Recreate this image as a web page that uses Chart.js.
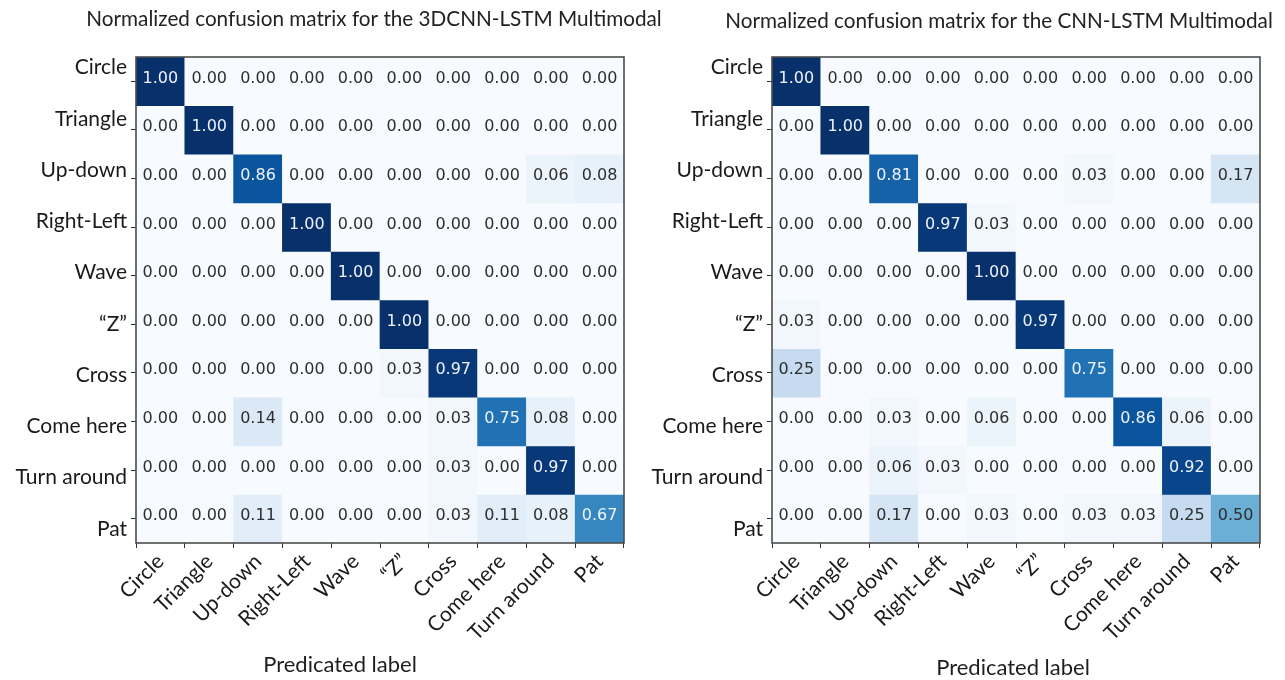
<!DOCTYPE html>
<html lang="en">
<head>
<meta charset="UTF-8">
<title>Normalized confusion matrices</title>
<script src="https://cdn.jsdelivr.net/npm/chart.js"></script>
<style>
  body { margin: 0; background: #fff; }
  .painel { position: absolute; top: 0; }
</style>
</head>
<body>
<canvas id="matriz3dcnn" class="painel" width="680" height="680" style="left:0"></canvas>
<canvas id="matrizCnn" class="painel" width="643" height="680" style="left:642px"></canvas>

<script>
// classes (true label rows / predicted label columns)
const classes = ['Circle', 'Triangle', 'Up-down', 'Right-Left', 'Wave', '\u201CZ\u201D', 'Cross', 'Come here', 'Turn around', 'Pat'];

// 3DCNN-LSTM, one row per true label
const valores3dcnn = [
  [1.00, 0.00, 0.00, 0.00, 0.00, 0.00, 0.00, 0.00, 0.00, 0.00],
  [0.00, 1.00, 0.00, 0.00, 0.00, 0.00, 0.00, 0.00, 0.00, 0.00],
  [0.00, 0.00, 0.86, 0.00, 0.00, 0.00, 0.00, 0.00, 0.06, 0.08],
  [0.00, 0.00, 0.00, 1.00, 0.00, 0.00, 0.00, 0.00, 0.00, 0.00],
  [0.00, 0.00, 0.00, 0.00, 1.00, 0.00, 0.00, 0.00, 0.00, 0.00],
  [0.00, 0.00, 0.00, 0.00, 0.00, 1.00, 0.00, 0.00, 0.00, 0.00],
  [0.00, 0.00, 0.00, 0.00, 0.00, 0.03, 0.97, 0.00, 0.00, 0.00],
  [0.00, 0.00, 0.14, 0.00, 0.00, 0.00, 0.03, 0.75, 0.08, 0.00],
  [0.00, 0.00, 0.00, 0.00, 0.00, 0.00, 0.03, 0.00, 0.97, 0.00],
  [0.00, 0.00, 0.11, 0.00, 0.00, 0.00, 0.03, 0.11, 0.08, 0.67]
];

// CNN-LSTM
const valoresCnn = [
  [1.00, 0.00, 0.00, 0.00, 0.00, 0.00, 0.00, 0.00, 0.00, 0.00],
  [0.00, 1.00, 0.00, 0.00, 0.00, 0.00, 0.00, 0.00, 0.00, 0.00],
  [0.00, 0.00, 0.81, 0.00, 0.00, 0.00, 0.03, 0.00, 0.00, 0.17],
  [0.00, 0.00, 0.00, 0.97, 0.03, 0.00, 0.00, 0.00, 0.00, 0.00],
  [0.00, 0.00, 0.00, 0.00, 1.00, 0.00, 0.00, 0.00, 0.00, 0.00],
  [0.03, 0.00, 0.00, 0.00, 0.00, 0.97, 0.00, 0.00, 0.00, 0.00],
  [0.25, 0.00, 0.00, 0.00, 0.00, 0.00, 0.75, 0.00, 0.00, 0.00],
  [0.00, 0.00, 0.03, 0.00, 0.06, 0.00, 0.00, 0.86, 0.06, 0.00],
  [0.00, 0.00, 0.06, 0.03, 0.00, 0.00, 0.00, 0.00, 0.92, 0.00],
  [0.00, 0.00, 0.17, 0.00, 0.03, 0.00, 0.03, 0.03, 0.25, 0.50]
];

const titulo3dcnn = 'Normalized confusion matrix for the 3DCNN-LSTM Multimodal';
const tituloCnn = 'Normalized confusion matrix for the CNN-LSTM Multimodal';
const rotuloX = 'Predicated label';

// paleta "Blues" (9 paradas)
const blues = ['#f7fbff', '#deebf7', '#c6dbef', '#9ecae1', '#6baed6', '#4292c6', '#2171b5', '#08519c', '#08306b'];

function corBlues(v) {
    const p = Math.min(Math.max(v, 0), 1) * (blues.length - 1);
    const i = Math.min(Math.floor(p), blues.length - 2);
    const t = p - i;
    const a = parseInt(blues[i].slice(1), 16), b = parseInt(blues[i + 1].slice(1), 16);
    const canal = s => Math.round(((a >> s) & 255) * (1 - t) + ((b >> s) & 255) * t);
    return `rgb(${canal(16)}, ${canal(8)}, ${canal(0)})`;
}

const fonteRotulo = { family: 'Lato', size: 21 };

// numeros dentro das celulas + moldura
const textoCelulas = {
    id: 'textoCelulas',
    afterDatasetsDraw(chart, args, o) {
        const { ctx, chartArea, scales: { x, y } } = chart;
        ctx.save();
        ctx.font = '16px "DejaVu Sans"';
        ctx.textAlign = 'center';
        ctx.textBaseline = 'alphabetic';
        o.valores.forEach((linha, i) => {
            linha.forEach((v, j) => {
                ctx.fillStyle = v > 0.5 ? '#eef3fa' : '#2e2e2e';
                ctx.fillText(v.toFixed(2), x.getPixelForValue(j), y.getPixelForValue(i + 0.5) + 1.5);
            });
        });
        ctx.strokeStyle = '#4d4d4d';
        ctx.lineWidth = 1.6;
        ctx.strokeRect(chartArea.left, chartArea.top, chartArea.right - chartArea.left, chartArea.bottom - chartArea.top);
        ctx.restore();
    }
};

// titulo e rotulo do eixo x
const textos = {
    id: 'textos',
    afterDraw(chart, args, o) {
        const ctx = chart.ctx;
        ctx.save();
        ctx.textAlign = 'center';
        ctx.textBaseline = 'middle';
        ctx.fillStyle = '#222';
        ctx.font = '20.7px Lato';
        ctx.fillText(o.titulo, o.tituloX, o.tituloY);
        ctx.fillStyle = '#1e1e1e';
        ctx.font = '22px Lato';
        ctx.fillText(rotuloX, o.eixoX, o.eixoY);
        ctx.restore();
    }
};

function montarMatriz(idCanvas, valores, cfg) {
    const datasets = valores.map((linha, i) => ({
        label: classes[i],
        data: linha.map(() => [i, i + 1]),
        backgroundColor: linha.map(corBlues),
        borderWidth: 0,
        barPercentage: 1,
        categoryPercentage: 1,
        grouped: false
    }));

    return new Chart(document.getElementById(idCanvas), {
        type: 'bar',
        data: { labels: classes, datasets: datasets },
        options: {
            responsive: false,
            animation: false,
            events: [],
            layout: { padding: { top: 57, right: cfg.direita, left: 0, bottom: 0 } },
            plugins: {
                legend: { display: false },
                tooltip: { enabled: false },
                textoCelulas: { valores: valores },
                textos: cfg.textos
            },
            scales: {
                x: {
                    type: 'category',
                    position: 'bottom',
                    grid: { drawOnChartArea: false, tickLength: 5, color: '#333' },
                    border: { display: false },
                    ticks: { autoSkip: false, maxRotation: 45, minRotation: 45, padding: 1, color: '#1a1a1a', font: fonteRotulo },
                    afterFit: s => { s.height = 137; }
                },
                // tracinhos no centro de cada linha
                y: {
                    type: 'linear',
                    position: 'left',
                    reverse: true,
                    min: 0,
                    max: 10,
                    weight: 0,
                    grid: { drawOnChartArea: false, tickLength: 5, color: '#333' },
                    border: { display: false },
                    ticks: { display: false },
                    afterBuildTicks: s => { s.ticks = classes.map((c, i) => ({ value: i + 0.5 })); },
                    afterFit: s => { s.width = 7; }
                },
                // nomes das classes
                yl: {
                    type: 'linear',
                    position: 'left',
                    reverse: true,
                    min: -0.209,
                    max: 9.274,
                    weight: 1,
                    grid: { display: false, drawTicks: false },
                    border: { display: false },
                    ticks: { padding: 2, color: '#1a1a1a', font: fonteRotulo, callback: v => classes[v] },
                    afterBuildTicks: s => { s.ticks = classes.map((c, i) => ({ value: i })); },
                    afterFit: s => { s.width = cfg.larguraRotulos; }
                }
            }
        },
        plugins: [textoCelulas, textos]
    });
}

// painel esquerdo: canvas mais largo que a area do grafico para o titulo caber
montarMatriz('matriz3dcnn', valores3dcnn, {
    direita: 56,
    larguraRotulos: 129,
    textos: { titulo: titulo3dcnn, tituloX: 374, tituloY: 19, eixoX: 340, eixoY: 665 }
});

montarMatriz('matrizCnn', valoresCnn, {
    direita: 25,
    larguraRotulos: 123,
    textos: { titulo: tituloCnn, tituloX: 357, tituloY: 21, eixoX: 371, eixoY: 668 }
});
</script>
</body>
</html>
